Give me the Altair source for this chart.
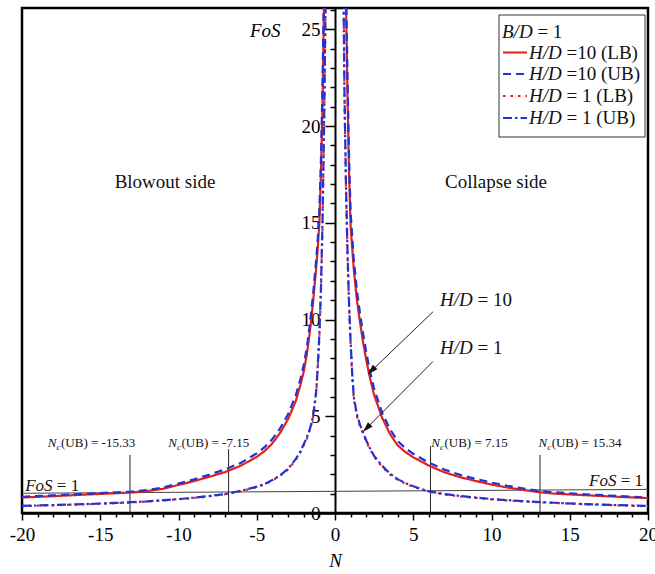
import altair as alt
import pandas as pd

FONT = "Liberation Serif"
RED = "#e3211c"
BLUE = "#2233d6"
INK = "#111111"

# ---------------- data ----------------
series_names = ["H/D =10 (LB)", "H/D =10 (UB)", "H/D = 1 (LB)", "H/D = 1 (UB)"]
legend_rest = ["=10 (LB)", "=10 (UB)", "= 1 (LB)", "= 1 (UB)"]

# H/D = 10
n10_left = [-20, -18, -16, -14, -13, -12, -11, -10, -9, -8, -7, -6, -5, -4.5, -4, -3.5, -3,
            -2.5, -2.2, -2, -1.8, -1.6, -1.4, -1.2, -1.1, -1.0, -0.9, -0.8, -0.7]
fos10_lb_left = [0.80, 0.87, 0.95, 1.02, 1.06, 1.13, 1.25, 1.45, 1.65, 1.88, 2.12, 2.45, 2.90,
                 3.20, 3.60, 4.15, 4.85, 5.80, 6.65, 7.30, 8.20, 9.40, 10.9, 12.7, 13.7, 15.0,
                 17.5, 21.0, 26.5]
fos10_ub_left = [0.84, 0.91, 0.99, 1.07, 1.11, 1.19, 1.32, 1.52, 1.74, 1.99, 2.26, 2.60, 3.08,
                 3.40, 3.82, 4.38, 5.10, 6.10, 6.95, 7.65, 8.55, 9.80, 11.3, 13.1, 14.2, 15.6,
                 18.2, 22.0, 27.5]
n10_right = [0.7, 0.8, 0.9, 1.0, 1.2, 1.4, 1.6, 1.8, 2.0, 2.2, 2.5, 3.0, 3.5, 4.0, 4.5, 5.0,
             6.0, 7.0, 8.0, 9.0, 10, 11, 12, 13, 14, 16, 18, 20]
fos10_lb_right = [26.5, 21.5, 17.5, 14.8, 12.6, 11.0, 9.85, 8.8, 7.9, 7.1, 6.1, 4.95, 4.1, 3.5,
                  3.15, 2.88, 2.45, 2.1, 1.85, 1.65, 1.47, 1.32, 1.19, 1.08, 1.0, 0.92, 0.84, 0.77]
fos10_ub_right = [27.5, 22.5, 18.3, 15.5, 13.1, 11.5, 10.3, 9.25, 8.3, 7.45, 6.42, 5.2, 4.35,
                  3.72, 3.35, 3.06, 2.6, 2.24, 1.97, 1.76, 1.57, 1.41, 1.27, 1.15, 1.07, 0.97,
                  0.88, 0.80]

# H/D = 1
n1_left = [-20, -18, -16, -14, -12, -10, -9, -8, -7, -6, -5, -4.5, -4, -3.5, -3, -2.5, -2.2,
           -2, -1.8, -1.6, -1.4, -1.2, -1.1, -1.0, -0.9, -0.8, -0.7, -0.6]
fos1_lb_left = [0.36, 0.40, 0.45, 0.51, 0.59, 0.71, 0.78, 0.87, 0.97, 1.13, 1.34, 1.48, 1.68,
                1.93, 2.25, 2.76, 3.15, 3.50, 3.85, 4.30, 4.95, 6.20, 7.50, 9.10, 11.4, 14.8,
                19.8, 26.3]
fos1_ub_left = [0.37, 0.41, 0.46, 0.52, 0.60, 0.72, 0.79, 0.88, 0.98, 1.15, 1.36, 1.50, 1.70,
                1.95, 2.28, 2.80, 3.20, 3.55, 3.90, 4.35, 5.00, 6.30, 7.60, 9.20, 11.5, 15.0,
                20.0, 26.5]
n1_right = [0.55, 0.6, 0.7, 0.8, 0.9, 1.0, 1.1, 1.2, 1.4, 1.6, 1.8, 2.0, 2.2, 2.5, 3.0, 3.5,
            4.0, 4.5, 5.0, 6.0, 7.0, 8.0, 9.0, 10, 12, 14, 16, 18, 20]
fos1_lb_right = [26.3, 21.8, 16.8, 13.3, 10.6, 8.7, 7.1, 5.9, 5.0, 4.5, 4.1, 3.7, 3.35, 2.9,
                 2.4, 2.0, 1.72, 1.52, 1.35, 1.1, 0.96, 0.86, 0.78, 0.70, 0.60, 0.52, 0.45,
                 0.40, 0.35]
fos1_ub_right = [26.5, 22.0, 17.0, 13.5, 10.8, 8.8, 7.2, 6.0, 5.1, 4.55, 4.15, 3.75, 3.4, 2.95,
                 2.45, 2.05, 1.75, 1.55, 1.38, 1.12, 0.98, 0.88, 0.80, 0.72, 0.61, 0.53, 0.46,
                 0.41, 0.36]

# FoS = 1 reference line (as drawn)
fos1_line_n = [-20, 20]
fos1_line_v = [1.02, 1.22]

# Nc(UB) marker lines
nc_line_n = [-13.1, -6.8, 6.1, 13.1]
nc_line_top = [3.0, 3.3, 3.45, 3.0]
nc_label_rest = ["(UB) = -15.33", "(UB) = -7.15", "(UB) = 7.15", "(UB) = 15.34"]
nc_label_n = [-18.35, -10.65, 6.15, 13.0]
nc_label_v = [3.43, 3.43, 3.43, 3.43]

# side labels
side_labels = ["Blowout side", "Collapse side"]
side_n = [-10.86, 10.29]
side_v = [17.1, 17.1]

# H/D annotations with arrows
hd_rest = ["= 10", "= 1"]
hd_n = [6.71, 6.71]
hd_v = [11.0, 8.55]
arrow_n0 = [6.26, 6.26]
arrow_v0 = [10.4, 7.83]
arrow_n1 = [2.1, 1.79]
arrow_v1 = [7.17, 4.2]

# FoS = 1 labels
fos_lbl_n = [-19.8, 19.68]
fos_lbl_v = [1.15, 1.41]

x_ticks = list(range(-20, 21))
y_ticks = list(range(0, 27))

# ---------------- build tables ----------------
rows = []
def add(name, ns, vals, side):
    for n, v in zip(ns, vals):
        rows.append({"N": n, "FoS": v, "series": name, "side": side})

add(series_names[0], n10_left, fos10_lb_left, "L")
add(series_names[0], n10_right, fos10_lb_right, "R")
add(series_names[1], n10_left, fos10_ub_left, "L")
add(series_names[1], n10_right, fos10_ub_right, "R")
add(series_names[2], n1_left, fos1_lb_left, "L")
add(series_names[2], n1_right, fos1_lb_right, "R")
add(series_names[3], n1_left, fos1_ub_left, "L")
add(series_names[3], n1_right, fos1_ub_right, "R")
curves = pd.DataFrame(rows)

styles = {
    series_names[0]: dict(color=RED, strokeDash=[1, 0]),
    series_names[1]: dict(color=BLUE, strokeDash=[8, 5]),
    series_names[2]: dict(color=RED, strokeDash=[2.5, 5]),
    series_names[3]: dict(color=BLUE, strokeDash=[9, 3, 2.5, 3]),
}

# ---------------- scales / axes ----------------
xscale = alt.Scale(domain=[-20, 20], nice=False, zero=False)
yscale = alt.Scale(domain=[0, 26.1], nice=False, zero=False)

xaxis = alt.Axis(
    values=x_ticks,
    labelExpr="datum.value % 5 === 0 ? '' + datum.value : ''",
    tickSize={"condition": {"test": "datum.value % 5 === 0", "value": 7}, "value": 4},
    tickWidth=1.5, tickColor="black", domainColor="black", domainWidth=2.5,
    labelFont=FONT, labelFontSize=19, labelColor="black", labelPadding=5,
    labelOverlap=False, labelFlush=False, grid=False,
    title="N", titleFont=FONT, titleFontSize=19, titleFontStyle="italic",
    titleFontWeight="normal", titleColor="black", titleY=47, titleBaseline="middle",
)
yaxis = alt.Axis(
    orient="left", offset=-313,
    values=y_ticks,
    labelExpr="datum.value % 5 === 0 ? '' + datum.value : ''",
    tickSize={"condition": {"test": "datum.value % 5 === 0", "value": 10}, "value": 5},
    tickWidth=1.5, tickColor="black", domainColor="black", domainWidth=2,
    labelFont=FONT, labelFontSize=19, labelColor="black", labelPadding=5,
    labelOverlap=False, labelFlush=False, grid=False,
    title="FoS", titleFont=FONT, titleFontSize=19, titleFontStyle="italic",
    titleFontWeight="normal", titleColor="black", titleAngle=0, titleAlign="right",
    titleBaseline="middle", titleX=-55, titleY=22,
)

def X(f="N"):
    return alt.X(f"{f}:Q", scale=xscale, axis=xaxis)

def Y(f="FoS"):
    return alt.Y(f"{f}:Q", scale=yscale, axis=yaxis)

layers = []

# FoS = 1 line
fos1_df = pd.DataFrame({"N": fos1_line_n, "FoS": fos1_line_v})
layers.append(alt.Chart(fos1_df).mark_line(color="#444444", strokeWidth=1).encode(x=X(), y=Y()))

# Nc vertical lines
nc_df = pd.DataFrame({"N": nc_line_n, "FoS": [0] * 4, "top": nc_line_top})
layers.append(alt.Chart(nc_df).mark_rule(color="#222222", strokeWidth=1).encode(
    x=X(), y=Y(), y2=alt.Y2("top:Q")))

# curves
for name in series_names:
    st = styles[name]
    layers.append(
        alt.Chart(curves).transform_filter(alt.datum.series == name)
        .mark_line(color=st["color"], strokeDash=st["strokeDash"], strokeWidth=2.2, clip=True)
        .encode(x=X(), y=Y(), detail="side:N")
    )

# arrows
arr_df = pd.DataFrame({"N": arrow_n0, "FoS": arrow_v0, "N2": arrow_n1, "FoS2": arrow_v1})
layers.append(alt.Chart(arr_df).mark_rule(color="#222222", strokeWidth=1).encode(
    x=X(), y=Y(), x2=alt.X2("N2:Q"), y2=alt.Y2("FoS2:Q")))
head_df = pd.DataFrame({"N": arrow_n1, "FoS": arrow_v1})
layers.append(alt.Chart(head_df).mark_point(
    shape="M0,0 L0.32,1 L-0.32,1 Z", size=420, angle=225, filled=True,
    color="#111111", opacity=1).encode(x=X(), y=Y()))

def txt(df, **kw):
    base = dict(font=FONT, color=INK)
    base.update(kw)
    return alt.Chart(df).mark_text(**base).encode(x=X(), y=Y(), text="t:N")

# side labels
side_df = pd.DataFrame({"N": side_n, "FoS": side_v, "t": side_labels})
layers.append(txt(side_df, fontSize=19, align="center", baseline="middle"))

# H/D labels
hd_df = pd.DataFrame({"N": hd_n, "FoS": hd_v, "t": ["H/D"] * 2})
layers.append(txt(hd_df, fontSize=19, fontStyle="italic", align="left", baseline="middle"))
hd_df2 = pd.DataFrame({"N": hd_n, "FoS": hd_v, "t": hd_rest})
layers.append(txt(hd_df2, fontSize=19, align="left", baseline="middle", dx=37.5))

# FoS = 1 labels
fl = pd.DataFrame({"N": [fos_lbl_n[0]], "FoS": [fos_lbl_v[0]], "t": ["FoS"]})
layers.append(txt(fl, fontSize=17, fontStyle="italic", align="left", baseline="alphabetic"))
fl2 = pd.DataFrame({"N": [fos_lbl_n[0]], "FoS": [fos_lbl_v[0]], "t": ["= 1"]})
layers.append(txt(fl2, fontSize=17, align="left", baseline="alphabetic", dx=31.7))
fr = pd.DataFrame({"N": [fos_lbl_n[1]], "FoS": [fos_lbl_v[1]], "t": ["= 1"]})
layers.append(txt(fr, fontSize=17, align="right", baseline="alphabetic"))
fr2 = pd.DataFrame({"N": [fos_lbl_n[1]], "FoS": [fos_lbl_v[1]], "t": ["FoS"]})
layers.append(txt(fr2, fontSize=17, fontStyle="italic", align="right", baseline="alphabetic", dx=-26.6))

# Nc(UB) labels
ncl = pd.DataFrame({"N": nc_label_n, "FoS": nc_label_v, "t": ["N"] * 4})
layers.append(txt(ncl, fontSize=13, fontStyle="italic", align="left", baseline="alphabetic"))
ncc = pd.DataFrame({"N": nc_label_n, "FoS": nc_label_v, "t": ["c"] * 4})
layers.append(txt(ncc, fontSize=9, fontStyle="italic", align="left", baseline="alphabetic", dx=8.7, dy=3))
ncr = pd.DataFrame({"N": nc_label_n, "FoS": nc_label_v, "t": nc_label_rest})
layers.append(txt(ncr, fontSize=13, align="left", baseline="alphabetic", dx=13.2))

# ---------------- legend (drawn in pixel space of the plot) ----------------
one = pd.DataFrame({"a": [0]})
LX0, LX1, LY0, LY1 = 477, 623, 7, 129
layers.append(alt.Chart(one).mark_rect(fill="white", stroke="#333333", strokeWidth=1).encode(
    x=alt.value(LX0), x2=alt.value(LX1), y=alt.value(LY0), y2=alt.value(LY1)))
row_y = [23.5, 44.5, 66, 88, 110]
layers.append(alt.Chart(one).mark_text(font=FONT, fontSize=19, fontStyle="italic", color=INK,
                                       align="left", baseline="middle", text="B/D").encode(
    x=alt.value(480), y=alt.value(row_y[0])))
layers.append(alt.Chart(one).mark_text(font=FONT, fontSize=19, color=INK,
                                       align="left", baseline="middle", text="= 1").encode(
    x=alt.value(480 + 35.4), y=alt.value(row_y[0])))
for i, name in enumerate(series_names):
    st = styles[name]
    yy = row_y[i + 1]
    layers.append(alt.Chart(one).mark_rule(color=st["color"], strokeDash=st["strokeDash"],
                                           strokeWidth=2.2).encode(
        x=alt.value(481), x2=alt.value(505), y=alt.value(yy)))
    layers.append(alt.Chart(one).mark_text(font=FONT, fontSize=19, fontStyle="italic", color=INK,
                                           align="left", baseline="middle", text="H/D").encode(
        x=alt.value(507), y=alt.value(yy)))
    layers.append(alt.Chart(one).mark_text(font=FONT, fontSize=19, color=INK,
                                           align="left", baseline="middle",
                                           text=legend_rest[i]).encode(
        x=alt.value(507 + 37.5), y=alt.value(yy)))

chart = alt.layer(*layers).properties(
    width=626, height=505,
    autosize=alt.AutoSizeParams(type="none"),
    padding={"left": 22, "top": 8, "right": 7, "bottom": 61},
    background="white",
).configure_view(stroke="black", strokeWidth=2.5)

chart.save("out.html", embed_options={"renderer": "svg", "actions": False})
